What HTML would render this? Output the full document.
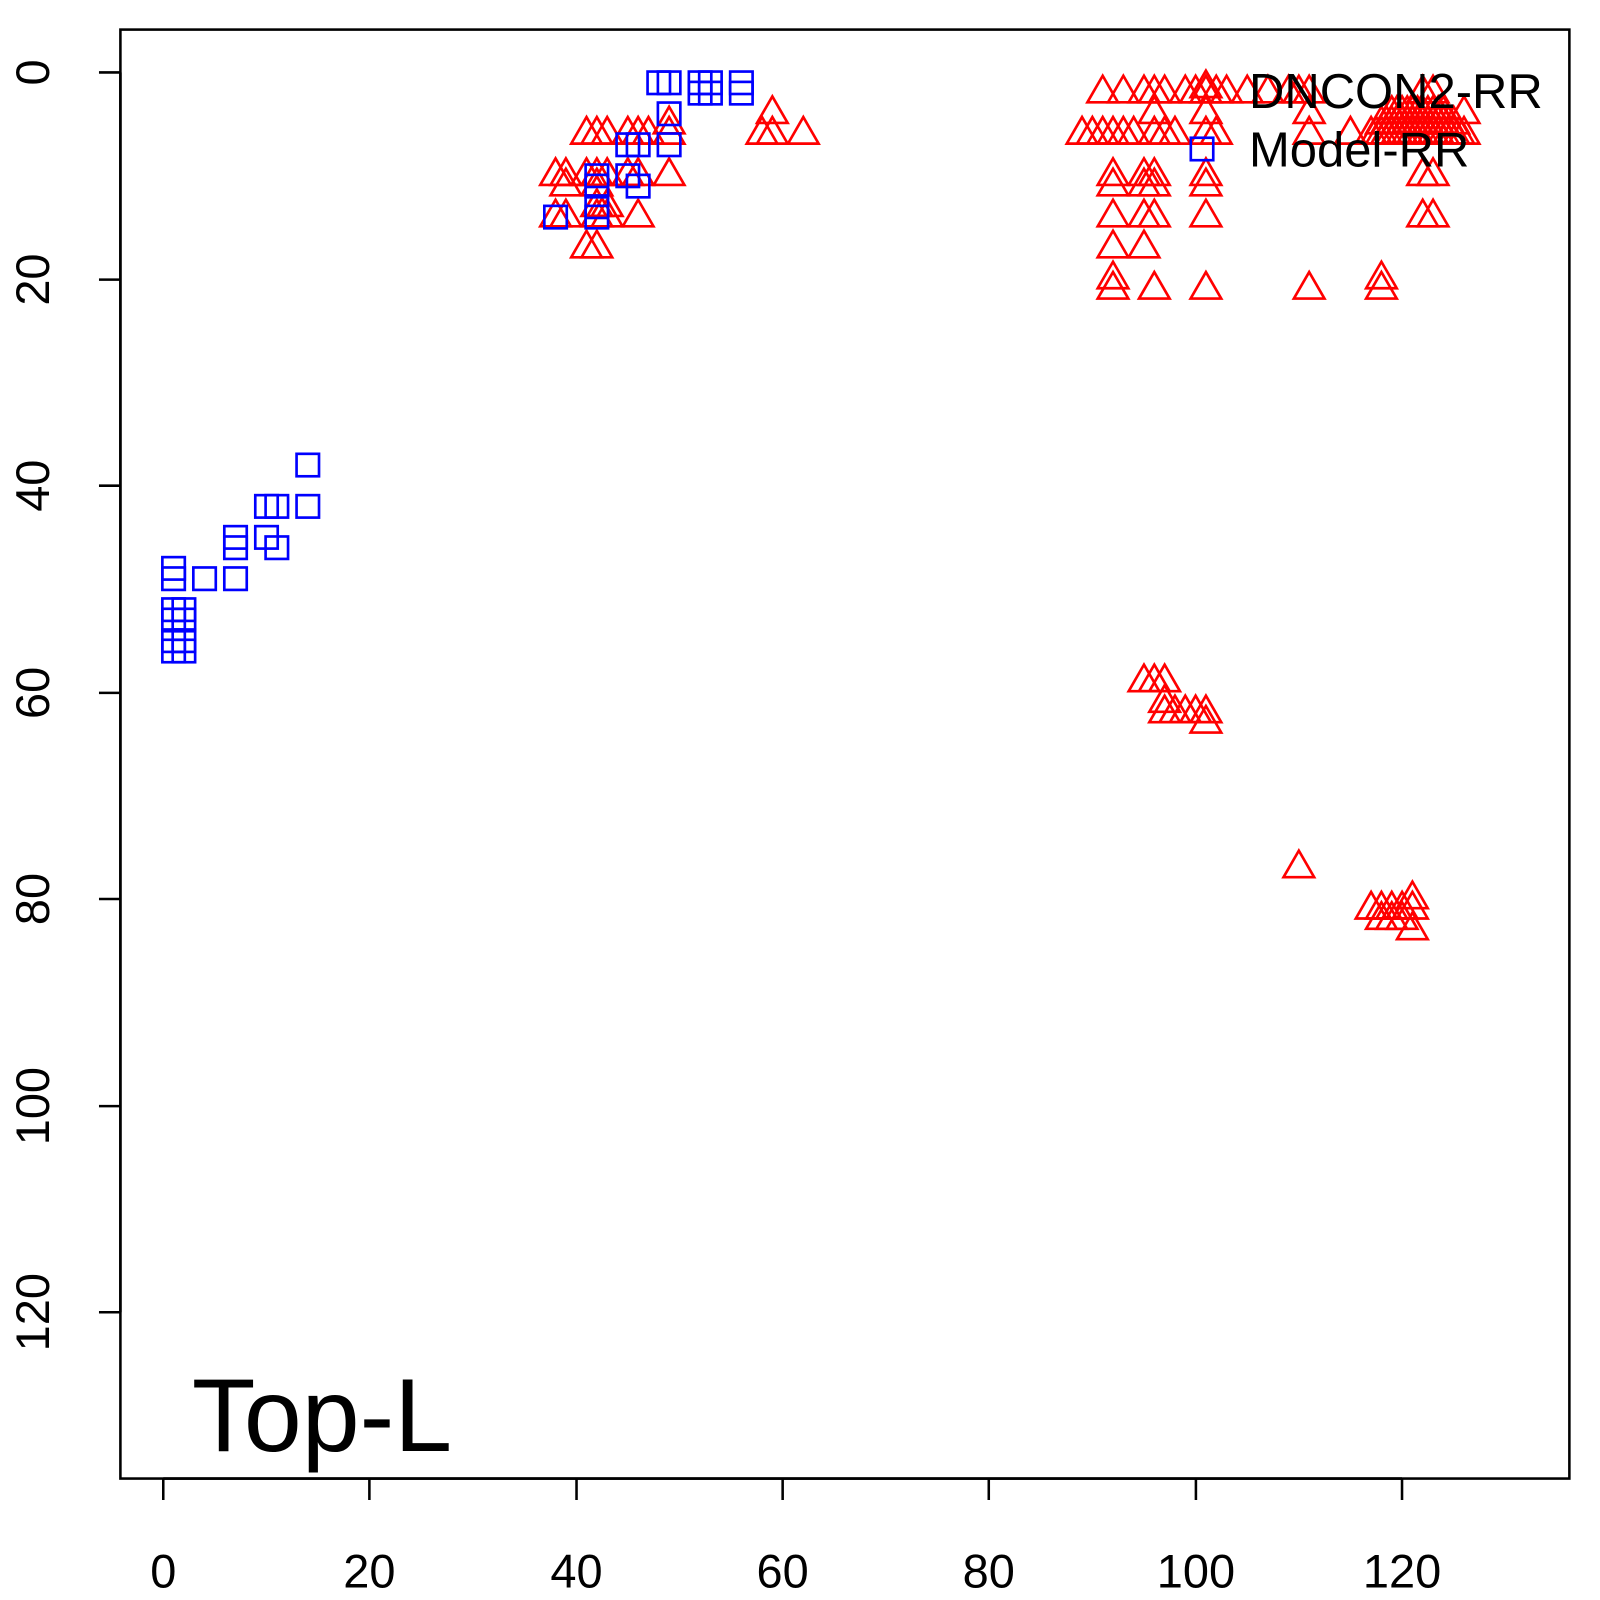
<!DOCTYPE html>
<html><head><meta charset="utf-8"><style>body{margin:0;background:#fff;overflow:hidden}svg{display:block}text{font-family:"Liberation Sans",sans-serif}</style></head>
<body>
<svg id="s" width="1600" height="1600" viewBox="0 0 1600 1600" xmlns="http://www.w3.org/2000/svg">
<g transform="scale(1.0204)">
<rect x="118" y="29" width="1420" height="1420" fill="none" stroke="#000" stroke-width="2.5"/>
<g stroke="#000" stroke-width="2.5">
<line x1="160" y1="1449" x2="1374" y2="1449"/>
<line x1="160" y1="1449" x2="160" y2="1470"/><line x1="362" y1="1449" x2="362" y2="1470"/><line x1="565" y1="1449" x2="565" y2="1470"/><line x1="767" y1="1449" x2="767" y2="1470"/><line x1="969" y1="1449" x2="969" y2="1470"/><line x1="1172" y1="1449" x2="1172" y2="1470"/><line x1="1374" y1="1449" x2="1374" y2="1470"/>
<line x1="118" y1="71" x2="118" y2="1286"/>
<line x1="118" y1="71" x2="97" y2="71"/><line x1="118" y1="274" x2="97" y2="274"/><line x1="118" y1="476" x2="97" y2="476"/><line x1="118" y1="679" x2="97" y2="679"/><line x1="118" y1="881" x2="97" y2="881"/><line x1="118" y1="1084" x2="97" y2="1084"/><line x1="118" y1="1286" x2="97" y2="1286"/>
</g>
<g font-size="46" text-anchor="middle">
<text x="160" y="1556">0</text><text x="362" y="1556">20</text><text x="565" y="1556">40</text><text x="767" y="1556">60</text><text x="969" y="1556">80</text><text x="1172" y="1556">100</text><text x="1374" y="1556">120</text>
<text transform="translate(48,71) rotate(-90)">0</text><text transform="translate(48,274) rotate(-90)">20</text><text transform="translate(48,476) rotate(-90)">40</text><text transform="translate(48,679) rotate(-90)">60</text><text transform="translate(48,881) rotate(-90)">80</text><text transform="translate(48,1084) rotate(-90)">100</text><text transform="translate(48,1286) rotate(-90)">120</text>
</g>
<g id="pts" fill="none" stroke-width="2.6"></g>
<text x="188" y="1422" font-size="102">Top-L</text>
<text x="1224" y="106" font-size="48">DNCON2-RR</text>
<text x="1224" y="163" font-size="48">Model-RR</text>
<rect x="1167" y="135" width="22" height="22" fill="none" stroke="#00f" stroke-width="2.6"/>
</g>
<script>
var g=document.getElementById('pts'),ns='http://www.w3.org/2000/svg';
function X(v){return 160+10.117*v}function Y(v){return 71+10.125*v}
var sq=[[1,48],[1,49],[1,52],[1,53],[1,55],[1,56],[2,52],[2,53],[2,55],[2,56],[4,49],[7,45],[7,46],[7,49],[10,42],[10,45],[11,42],[11,46],[14,38],[14,42],[38,14],[42,10],[42,11],[42,13],[42,14],[45,7],[45,10],[46,7],[46,11],[48,1],[49,1],[49,4],[49,7],[52,1],[52,2],[53,1],[53,2],[56,1],[56,2]];
var tr=[];
[41,42,43,45,46,47,49].forEach(function(x){tr.push([x,6])});
tr.push([59,4],[58,6],[59,6],[62,6],[49,5]);
[38,39,41,42,43,45,46,49].forEach(function(x){tr.push([x,10])});
tr.push([39,11],[42,11],[38,14],[39,14],[42,14],[43,14],[46,14],[42,13],[43,13],[41,17],[42,17]);
[91,93,95,96,97,99,100,101,102,103,105,107,109,110,111].forEach(function(x){tr.push([x,2])});
tr.push([101,1.5],[96,4],[101,4],[111,4]);
[89,90,91,92,93,94,96,97,98,101,102,111,115].forEach(function(x){tr.push([x,6])});
[92,95,96,101].forEach(function(x){tr.push([x,10]);tr.push([x,11]);tr.push([x,14])});
tr.push([92,17],[95,17],[92,20],[92,21],[96,21],[101,21],[111,21],[118,21],[118,20]);
for(var x=117;x<=126;x+=0.5){tr.push([x,6]);if(x>=118&&x<=125)tr.push([x,5]);if(x>=119&&x<=124)tr.push([x,4]);}
tr.push([122,2],[123,2],[126,4],[122,10],[123,10],[122,14],[123,14]);
tr.push([95,59],[96,59],[97,59],[97,61],[97,62],[98,62],[99,62],[100,62],[101,62],[101,63],[110,77],[117,81],[118,81],[119,81],[120,81],[121,80],[121,81],[118,82],[119,82],[120,82],[121,83]);
tr.forEach(function(p){var cx=X(p[0]),cy=Y(p[1]);var e=document.createElementNS(ns,'polygon');
e.setAttribute('points',cx+','+(cy-17)+' '+(cx-15)+','+(cy+9)+' '+(cx+15)+','+(cy+9));e.setAttribute('stroke','#f00');g.appendChild(e)});
sq.forEach(function(p){var cx=X(p[0]),cy=Y(p[1]);var e=document.createElementNS(ns,'rect');
e.setAttribute('x',cx-11);e.setAttribute('y',cy-11);e.setAttribute('width',22);e.setAttribute('height',22);e.setAttribute('stroke','#00f');g.appendChild(e)});
</script>
</svg>
</body></html>
